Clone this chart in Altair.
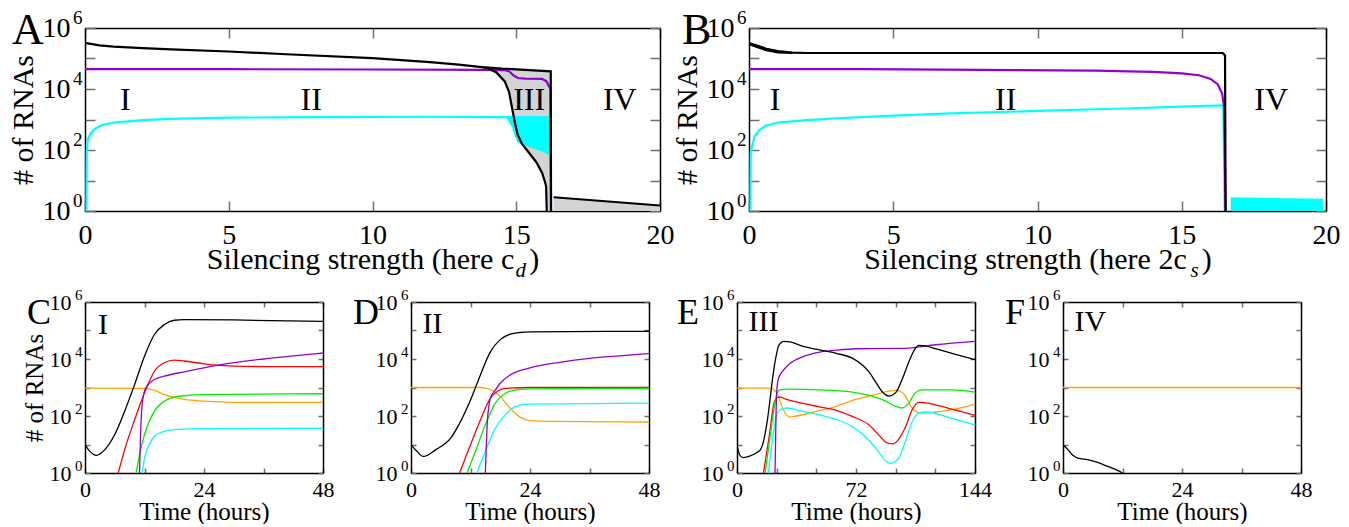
import altair as alt
import pandas as pd

FONT = "Liberation Serif"
BLACK = "#000000"
PURPLE = "#9400D3"
CYAN = "#00FFFF"
RED = "#FF0000"
GREEN = "#00EE00"
ORANGE = "#FFA500"
GRAY = "#D3D3D3"
TICKC = "#707070"

DECADES = [1, 1e1, 1e2, 1e3, 1e4, 1e5, 1e6]
EVEN = [1, 1e2, 1e4, 1e6]

# ---------------- Panel A (x = silencing strength, y = log10 #RNAs) ----------------
a_black_x = [0, 0.5, 1, 2, 3, 5, 7, 10, 12, 13, 13.8, 14.5, 15.3, 16.2, 16.21]
a_black_y = [5.51, 5.43, 5.39, 5.34, 5.30, 5.23, 5.14, 5.01, 4.88, 4.80, 4.72, 4.67, 4.63, 4.58, 0]
a_low_x = [13.8, 14.0, 14.3, 14.6, 14.75, 14.85, 14.95, 15.05, 15.2, 15.45, 15.7, 15.9, 16.0, 16.04, 16.06]
a_low_y = [4.72, 4.68, 4.55, 4.25, 3.9, 3.4, 2.9, 2.5, 2.2, 1.9, 1.6, 1.25, 0.95, 0.8, 0]
a_gray_x = [13.8, 14.0, 14.3, 14.6, 14.75, 14.85, 14.95, 15.05, 15.2, 15.45, 15.7, 15.9, 16.0, 16.04, 16.06, 16.2]
a_gray_hi = [4.72, 4.71, 4.69, 4.665, 4.66, 4.655, 4.65, 4.645, 4.635, 4.625, 4.61, 4.60, 4.595, 4.59, 4.59, 4.58]
a_gray_lo = [4.72, 4.68, 4.55, 4.25, 3.9, 3.4, 2.9, 2.5, 2.2, 1.9, 1.6, 1.25, 0.95, 0.8, 0, 0]
a_iv_x = [16.3, 20]
a_iv_y = [0.45, 0.18]
a_iv_lo = [0, 0]
a_purple_x = [0, 5, 10, 14, 14.6, 14.75, 14.9, 15.05, 15.3, 15.9, 16.05, 16.15, 16.19, 16.21]
a_purple_y = [4.65, 4.65, 4.64, 4.63, 4.62, 4.58, 4.45, 4.36, 4.34, 4.33, 4.25, 4.07, 4.0, 0]
a_cyan_x = [0.05, 0.06, 0.1, 0.2, 0.35, 0.6, 1, 2, 3, 5, 8, 12, 14.5, 16.18, 16.2, 16.21]
a_cyan_y = [0, 1.95, 2.35, 2.55, 2.7, 2.82, 2.9, 2.98, 3.02, 3.06, 3.08, 3.09, 3.08, 3.07, 1.8, 0]
a_cfill_x = [14.6, 14.7, 14.85, 14.95, 15.05, 15.3, 15.6, 15.9, 16.1, 16.2]
a_cfill_hi = [3.08, 3.08, 3.08, 3.08, 3.08, 3.08, 3.07, 3.07, 3.07, 3.07]
a_cfill_lo = [3.08, 3.0, 2.75, 2.45, 2.25, 2.15, 2.05, 1.95, 1.85, 1.8]
a_roman_t = ["I", "II", "III", "IV"]
a_roman_x = [1.4, 7.87, 15.45, 18.6]
a_roman_y = [3.65, 3.65, 3.65, 3.65]

# ---------------- Panel B ----------------
b_black_x = [0, 0.3, 0.6, 1, 1.5, 2, 5, 10, 15, 16.42, 16.5, 16.52]
b_black_y = [5.51, 5.42, 5.32, 5.24, 5.19, 5.18, 5.18, 5.18, 5.18, 5.18, 5.1, 0]
b_black2_x = [0, 0.3, 0.6, 1, 1.5]
b_black2_y = [5.47, 5.37, 5.27, 5.2, 5.18]
b_band_hi = [5.51, 5.42, 5.32, 5.24, 5.19]
b_purple_x = [0, 4, 8, 12, 14, 15, 15.6, 16.0, 16.25, 16.4, 16.47, 16.52]
b_purple_y = [4.65, 4.65, 4.63, 4.6, 4.56, 4.51, 4.45, 4.33, 4.15, 3.85, 3.4, 0]
b_cyan_x = [0.05, 0.06, 0.1, 0.2, 0.35, 0.6, 1, 2, 3, 5, 7, 10, 13, 15, 16.44, 16.49]
b_cyan_y = [0, 1.9, 2.1, 2.45, 2.65, 2.8, 2.9, 2.98, 3.04, 3.13, 3.2, 3.28, 3.36, 3.42, 3.46, 0]
b_cfill_x = [16.7, 19.9]
b_cfill_hi = [0.45, 0.40]
b_cfill_lo = [0, 0]
b_roman_t = ["I", "II", "IV"]
b_roman_x = [0.9, 8.9, 18.1]
b_roman_y = [3.65, 3.65, 3.65]

# ---------------- Panel C (time in hours) ----------------
c_black_x = [0, 1, 2.3, 4, 6, 8, 10, 12, 14, 16, 18, 20, 30, 48]
c_black_y = [1.0, 0.76, 0.62, 0.82, 1.35, 2.17, 3.1, 4.1, 4.86, 5.21, 5.36, 5.38, 5.37, 5.32]
c_red_x = [6.7, 8, 10, 12, 14, 16, 18, 20, 24, 30, 40, 48]
c_red_y = [0, 0.82, 1.87, 2.81, 3.57, 3.87, 3.96, 3.93, 3.83, 3.75, 3.73, 3.73]
c_purple_x = [11, 11.3, 11.8, 12.5, 14, 16, 20, 24, 30, 36, 42, 48]
c_purple_y = [0, 1.8, 2.75, 3.05, 3.28, 3.4, 3.55, 3.69, 3.87, 4.0, 4.11, 4.21]
c_green_x = [10.3, 11, 12, 14, 16, 18, 20, 24, 48]
c_green_y = [0, 0.64, 1.35, 2.17, 2.52, 2.66, 2.71, 2.75, 2.78]
c_orange_x = [0, 12, 14, 16, 18, 20, 24, 30, 48]
c_orange_y = [2.98, 2.97, 2.9, 2.75, 2.65, 2.58, 2.52, 2.48, 2.48]
c_cyan_x = [11.5, 12, 13, 14, 16, 18, 24, 48]
c_cyan_y = [0, 0.53, 1.0, 1.29, 1.46, 1.52, 1.56, 1.57]

# ---------------- Panel D ----------------
d_black_x = [0, 1, 2.5, 5, 8, 10, 12, 14, 16, 18, 20, 22, 24, 48]
d_black_y = [0.99, 0.8, 0.58, 0.82, 1.22, 1.81, 2.56, 3.44, 4.25, 4.68, 4.87, 4.93, 4.95, 4.97]
d_purple_x = [15, 15.4, 16, 17, 18, 20, 24, 30, 36, 42, 48]
d_purple_y = [0, 1.8, 2.62, 2.91, 3.15, 3.44, 3.69, 3.88, 4.02, 4.11, 4.19]
d_red_x = [9.8, 12, 14, 16, 17.5, 19, 24, 48]
d_red_y = [0, 0.99, 1.86, 2.62, 2.88, 2.97, 3.0, 3.0]
d_green_x = [11.3, 13, 15, 17, 19, 21, 24, 48]
d_green_y = [0, 0.76, 1.69, 2.45, 2.8, 2.91, 2.95, 2.97]
d_cyan_x = [13.3, 15, 17, 19, 21, 23, 24, 48]
d_cyan_y = [0, 0.76, 1.57, 2.04, 2.33, 2.41, 2.42, 2.45]
d_orange_x = [0, 14, 15, 16, 18, 20, 22, 24, 28, 48]
d_orange_y = [3.0, 3.0, 2.98, 2.93, 2.68, 2.27, 1.96, 1.84, 1.81, 1.79]

# ---------------- Panel E ----------------
e_black_x = [0, 2, 4, 8, 12, 14, 16, 17, 18.5, 20, 21.5, 23, 24, 25, 26.5, 28, 32, 40, 50, 60, 70, 76, 80,
             84, 88, 92, 96, 100, 104, 108, 110, 114, 120, 130, 144]
e_black_y = [0.96, 0.6, 0.54, 0.6, 0.72, 0.8, 1.1, 1.38, 1.9, 2.58, 3.3, 3.9, 4.2, 4.44, 4.56, 4.62, 4.6, 4.44,
             4.32, 4.2, 4.02, 3.78, 3.54, 3.18, 2.84, 2.7, 2.82, 3.3, 3.9, 4.38, 4.48, 4.46, 4.36, 4.2, 3.98]
e_purple_x = [23, 23.6, 24, 25, 28, 32, 40, 50, 60, 72, 96, 104, 120, 144]
e_purple_y = [0, 2.0, 2.82, 3.3, 3.6, 3.84, 4.08, 4.24, 4.31, 4.36, 4.37, 4.38, 4.5, 4.62]
e_green_x = [17, 20, 22, 24, 26, 30, 50, 70, 80, 90, 96, 100, 104, 108, 112, 130, 144]
e_green_y = [0, 1.26, 2.1, 2.76, 2.92, 2.94, 2.92, 2.84, 2.72, 2.52, 2.34, 2.28, 2.46, 2.82, 2.92, 2.92, 2.84]
e_red_x = [16, 20, 22, 24, 26, 30, 40, 50, 60, 70, 80, 86, 90, 94, 98, 102, 106, 110, 114, 130, 144]
e_red_y = [0, 1.5, 2.34, 2.64, 2.66, 2.58, 2.44, 2.32, 2.2, 1.98, 1.68, 1.32, 1.08, 1.02, 1.2, 1.62, 2.22,
           2.48, 2.46, 2.24, 2.02]
e_cyan_x = [19, 22, 24, 26, 30, 40, 50, 60, 70, 80, 86, 90, 93, 98, 102, 106, 110, 114, 130, 144]
e_cyan_y = [0, 1.38, 2.04, 2.22, 2.28, 2.16, 2.04, 1.88, 1.62, 1.14, 0.72, 0.42, 0.34, 0.54, 1.14, 1.8,
            2.1, 2.14, 1.92, 1.68]
e_orange_x = [0, 20, 24, 28, 32, 36, 48, 60, 72, 84, 92, 96, 99, 102, 104, 108, 112, 120, 130, 144]
e_orange_y = [2.98, 2.98, 2.82, 2.22, 1.96, 2.0, 2.16, 2.34, 2.58, 2.76, 2.87, 2.9, 2.86, 2.7, 2.46, 2.16,
              2.1, 2.14, 2.22, 2.42]

# ---------------- Panel F ----------------
f_orange_x = [0, 48]
f_orange_y = [3.0, 3.0]
f_black_x = [0, 1, 2, 3, 5, 7, 9, 11, 12]
f_black_y = [0.99, 0.82, 0.62, 0.52, 0.47, 0.37, 0.23, 0.09, 0]


def line_df(xs, ys):
    return pd.DataFrame({"x": xs, "y": [10.0 ** v for v in ys], "i": list(range(len(xs)))})


def panel(W, H, xdom, xlabels, xticks, xtitle, ytitle, letter, letter_dx, letter_dy, letter_size,
          areas, lines, romans, roman_align, roman_size, lab_size, exp_size, exp_dy, lab_pad_y,
          title_size, tick_len, lw, lab_pad_x, title_pad_x, title_pad_y, interp, sub=None):
    xs = alt.Scale(domain=xdom, nice=False, zero=False)
    ys = alt.Scale(type="log", domain=[1, 1e6], nice=False)
    layers = []
    for xv, lo, hi, col in areas:
        df = pd.DataFrame({"x": xv, "lo": [10.0 ** v for v in lo], "hi": [10.0 ** v for v in hi]})
        layers.append(
            alt.Chart(df).mark_area(color=col, opacity=1, clip=True).encode(
                x=alt.X("x:Q", scale=xs, axis=None),
                y=alt.Y("hi:Q", scale=ys, axis=None),
                y2="lo:Q",
            )
        )
    for xv, yv, col in lines:
        layers.append(
            alt.Chart(line_df(xv, yv)).mark_line(color=col, strokeWidth=lw, clip=True,
                                                  interpolate=interp).encode(
                x=alt.X("x:Q", scale=xs, axis=None),
                y=alt.Y("y:Q", scale=ys, axis=None),
                order="i:Q",
            )
        )
    rt, rx, ry = romans
    rdf = pd.DataFrame({"x": rx, "y": [10.0 ** v for v in ry], "t": rt})
    layers.append(
        alt.Chart(rdf).mark_text(font=FONT, fontSize=roman_size, align=roman_align,
                                 baseline="middle", color="black").encode(
            x=alt.X("x:Q", scale=xs, axis=None),
            y=alt.Y("y:Q", scale=ys, axis=None),
            text="t:N",
        )
    )
    ldf = pd.DataFrame({"t": [letter]})
    layers.append(
        alt.Chart(ldf).mark_text(font=FONT, fontSize=letter_size, align="left",
                                 baseline="alphabetic", color="black").encode(
            x=alt.value(letter_dx), y=alt.value(letter_dy), text="t:N"
        )
    )
    if sub is not None:
        s_text, s_dx, s_dy = sub
        layers.append(
            alt.Chart(pd.DataFrame({"t": [s_text]})).mark_text(
                font=FONT, fontSize=21, fontStyle="italic", align="left", baseline="alphabetic",
                color="black").encode(x=alt.value(W / 2 + s_dx), y=alt.value(H + s_dy), text="t:N")
        )

    dummy = pd.DataFrame({"x": [xdom[0]], "y": [1.0]})
    base = alt.Chart(dummy).mark_point(opacity=0)
    tick_kw = dict(labels=False, grid=False, tickSize=tick_len, tickWidth=1.5, tickColor=TICKC,
                   domain=True, domainColor="black", domainWidth=1.5, title="")
    ax1 = base.encode(
        x=alt.X("x:Q", scale=xs, axis=alt.Axis(
            orient="bottom", values=xlabels, ticks=False, domain=False, grid=False,
            labelFont=FONT, labelFontSize=lab_size, labelColor="black", labelPadding=lab_pad_x,
            labelFlush=False, labelOverlap=False, title=xtitle, titleFont=FONT,
            titleFontSize=title_size, titleFontWeight="normal", titleColor="black",
            titlePadding=title_pad_x)),
        y=alt.Y("y:Q", scale=ys, axis=alt.Axis(
            orient="left", values=EVEN, labelExpr="'10'", ticks=False, domain=False, grid=False,
            labelFont=FONT, labelFontSize=lab_size, labelColor="black", labelPadding=lab_pad_y,
            labelFlush=False, labelOverlap=False, title=ytitle, titleFont=FONT,
            titleFontSize=title_size, titleFontWeight="normal", titleColor="black",
            titlePadding=title_pad_y)),
    )
    ax2 = base.encode(
        x=alt.X("x:Q", scale=xs, axis=alt.Axis(orient="top", offset=-H, values=xticks, **tick_kw)),
        y=alt.Y("y:Q", scale=ys, axis=alt.Axis(
            orient="left", values=EVEN, labelExpr="'' + round(log(datum.value) / LN10)",
            ticks=False, domain=False, grid=False, labelFont=FONT, labelFontSize=exp_size,
            labelColor="black", labelPadding=3, labelOffset=-exp_dy, labelFlush=False,
            labelOverlap=False, title="")),
    )
    ax3 = base.encode(
        x=alt.X("x:Q", scale=xs, axis=alt.Axis(orient="bottom", offset=-H, values=xticks, **tick_kw)),
        y=alt.Y("y:Q", scale=ys, axis=alt.Axis(orient="right", offset=-W, values=DECADES, **tick_kw)),
    )
    ax4 = base.encode(
        x=alt.X("x:Q", scale=xs, axis=None),
        y=alt.Y("y:Q", scale=ys, axis=alt.Axis(orient="left", offset=-W, values=DECADES, **tick_kw)),
    )
    return alt.layer(*layers, ax1, ax2, ax3, ax4).resolve_axis(
        x="independent", y="independent").properties(width=W, height=H)


top_kw = dict(letter_size=44, roman_align="center", roman_size=32, lab_size=28, exp_size=19, exp_dy=11,
              lab_pad_y=15, title_size=30, tick_len=10, lw=2.2, lab_pad_x=10, title_pad_x=-5,
              title_pad_y=4, interp="linear")
bot_kw = dict(letter_size=36, roman_align="left", roman_size=30, lab_size=22, exp_size=15, exp_dy=8,
              lab_pad_y=14, title_size=25, tick_len=5, lw=1.3, lab_pad_x=6, title_pad_x=-1,
              title_pad_y=2, interp="monotone")

A = panel(575, 183, [0, 20], [0, 5, 10, 15, 20], [0, 5, 10, 15, 20],
          "Silencing strength (here c\u2002)", "# of RNAs", "A", -73, 16,
          areas=[(a_gray_x, a_gray_lo, a_gray_hi, GRAY), (a_iv_x, a_iv_lo, a_iv_y, GRAY),
                 (a_cfill_x, a_cfill_lo, a_cfill_hi, CYAN)],
          lines=[(a_cyan_x, a_cyan_y, CYAN), (a_purple_x, a_purple_y, PURPLE),
                 (a_black_x, a_black_y, BLACK), (a_low_x, a_low_y, BLACK), (a_iv_x, a_iv_y, BLACK)],
          romans=(a_roman_t, a_roman_x, a_roman_y), sub=("d", 143, 66), **top_kw)

B = panel(577, 183, [0, 20], [0, 5, 10, 15, 20], [0, 5, 10, 15, 20],
          "Silencing strength (here 2c\u2002)", "# of RNAs", "B", -67, 16,
          areas=[(b_black2_x, b_black2_y, b_band_hi, GRAY), (b_cfill_x, b_cfill_lo, b_cfill_hi, CYAN)],
          lines=[(b_cyan_x, b_cyan_y, CYAN), (b_purple_x, b_purple_y, PURPLE),
                 (b_black_x, b_black_y, BLACK), (b_black2_x, b_black2_y, BLACK)],
          romans=(b_roman_t, b_roman_x, b_roman_y), sub=("s", 153, 66), **top_kw)

C = panel(238, 171, [0, 48], [0, 24, 48], [0, 12, 24, 36, 48], "Time (hours)", "# of RNAs", "C", -58, 22,
          areas=[],
          lines=[(c_orange_x, c_orange_y, ORANGE), (c_green_x, c_green_y, GREEN),
                 (c_cyan_x, c_cyan_y, CYAN), (c_red_x, c_red_y, RED),
                 (c_purple_x, c_purple_y, PURPLE), (c_black_x, c_black_y, BLACK)],
          romans=(["I"], [2.6], [5.2]), **bot_kw)

D = panel(238, 171, [0, 48], [0, 24, 48], [0, 12, 24, 36, 48], "Time (hours)", "", "D", -58, 22,
          areas=[],
          lines=[(d_orange_x, d_orange_y, ORANGE), (d_cyan_x, d_cyan_y, CYAN),
                 (d_red_x, d_red_y, RED), (d_green_x, d_green_y, GREEN),
                 (d_purple_x, d_purple_y, PURPLE), (d_black_x, d_black_y, BLACK)],
          romans=(["II"], [2.3], [5.24]), **bot_kw)

E = panel(238, 171, [0, 144], [0, 72, 144], [0, 24, 48, 72, 96, 120, 144], "Time (hours)", "", "E", -60, 22,
          areas=[],
          lines=[(e_orange_x, e_orange_y, ORANGE), (e_cyan_x, e_cyan_y, CYAN),
                 (e_red_x, e_red_y, RED), (e_green_x, e_green_y, GREEN),
                 (e_purple_x, e_purple_y, PURPLE), (e_black_x, e_black_y, BLACK)],
          romans=(["III"], [7], [5.3]), **bot_kw)

F = panel(238, 171, [0, 48], [0, 24, 48], [0, 12, 24, 36, 48], "Time (hours)", "", "F", -58, 22,
          areas=[],
          lines=[(f_orange_x, f_orange_y, ORANGE), (f_black_x, f_black_y, BLACK)],
          romans=(["IV"], [2.3], [5.3]), **bot_kw)

top = alt.hconcat(A, B, spacing=89, bounds="flush")
bottom = alt.hconcat(C, D, E, F, spacing=88, bounds="flush")

chart = alt.vconcat(top, bottom, spacing=6).properties(
    padding=0, background="white").configure_view(stroke=None)

chart.save("out.html", embed_options={"renderer": "svg", "actions": False})
